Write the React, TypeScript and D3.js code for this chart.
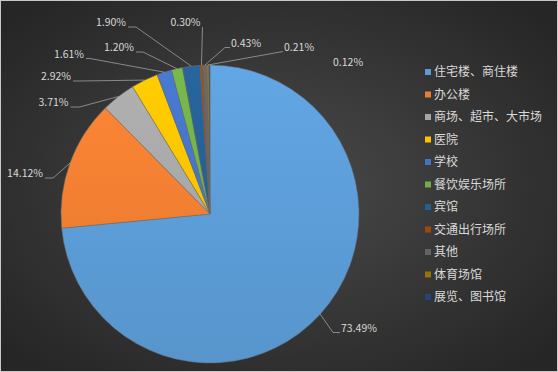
import React from "react";
import * as d3 from "d3";

const categories = [
  "住宅楼、商住楼",
  "办公楼",
  "商场、超市、大市场",
  "医院",
  "学校",
  "餐饮娱乐场所",
  "宾馆",
  "交通出行场所",
  "其他",
  "体育场馆",
  "展览、图书馆",
];
const values = [73.49, 14.12, 3.71, 2.92, 1.61, 1.2, 1.9, 0.3, 0.43, 0.21, 0.12];
const valueLabels = ["73.49%", "14.12%", "3.71%", "2.92%", "1.61%", "1.20%", "1.90%", "0.30%", "0.43%", "0.21%", "0.12%"];
const colors = ["#5b9bd5", "#ed7d31", "#a5a5a5", "#ffc000", "#4472c4", "#70ad47", "#255e91", "#9e480e", "#636363", "#997300", "#264478"];

// label layout (x, y centre, anchor, elbow length, leader shown)
const labelLayout = [
  { x: 341, y: 328, anchor: "start", elbow: 7, leader: true },
  { x: 43, y: 173.5, anchor: "end", elbow: 8, leader: true },
  { x: 68.5, y: 102.5, anchor: "end", elbow: 9, leader: true },
  { x: 71, y: 76.5, anchor: "end", elbow: 6, leader: true },
  { x: 84, y: 54, anchor: "end", elbow: 4, leader: true },
  { x: 134, y: 47.5, anchor: "end", elbow: 7, leader: true },
  { x: 126, y: 22.5, anchor: "end", elbow: 8, leader: true },
  { x: 200.5, y: 22.5, anchor: "end", elbow: 0, leader: true },
  { x: 231, y: 43, anchor: "start", elbow: 5, leader: true },
  { x: 284, y: 47, anchor: "start", elbow: 0, leader: true },
  { x: 333, y: 62, anchor: "start", elbow: 0, leader: false },
];

const W = 558;
const H = 372;
const cx = 210;
const cy = 214;
const R = 149;

export default function App() {
  const pie = d3
    .pie<number>()
    .sort(null)
    .value((d) => d)
    .startAngle(0)
    .endAngle(2 * Math.PI);
  const arcs = pie(values);
  const arc = d3.arc<d3.PieArcDatum<number>>().innerRadius(0).outerRadius(R);

  const legendY = d3.scalePoint<number>().domain(d3.range(categories.length)).range([72, 297]);

  const font = "'Noto Sans CJK SC', 'Microsoft YaHei', sans-serif";

  return (
    <div style={{ position: "absolute", left: 0, top: 0 }}>
      <svg width={W} height={H} style={{ display: "block" }}>
        <defs>
          <radialGradient id="bg" cx="50%" cy="50%" r="65%">
            <stop offset="0%" stopColor="#4a4a4a" />
            <stop offset="100%" stopColor="#262626" />
          </radialGradient>
          {colors.map((c, i) => (
            <linearGradient
              key={i}
              id={"g" + i}
              gradientUnits="userSpaceOnUse"
              x1={0}
              y1={-R}
              x2={0}
              y2={R}
            >
              <stop offset="0%" stopColor={d3.color(c)!.brighter(0.2).formatHex()} />
              <stop offset="100%" stopColor={d3.color(c)!.darker(0.12).formatHex()} />
            </linearGradient>
          ))}
        </defs>
        <rect x={0} y={0} width={W} height={H} fill="url(#bg)" />
        <rect x={0.5} y={0.5} width={W - 1} height={H - 1} fill="none" stroke="#c8c8c8" strokeWidth={1} />
        <g transform={`translate(${cx},${cy})`}>
          {arcs.map((a, i) => (
            <path key={i} d={arc(a)!} fill={`url(#g${i})`} stroke="#6b6b6b" strokeWidth={0.5} />
          ))}
        </g>
        {arcs.map((a, i) => {
          const L = labelLayout[i];
          const mid = (a.startAngle + a.endAngle) / 2;
          const ex = cx + R * Math.sin(mid);
          const ey = cy - R * Math.cos(mid);
          const ly = L.y + 4.5;
          let pts: [number, number][] = [];
          if (L.anchor === "end") {
            const sx = L.x + 2;
            pts = [[sx, ly], [sx + L.elbow, ly], [ex, ey]];
          } else {
            const sx = L.x - 1;
            pts = [[sx, ly], [sx - L.elbow, ly], [ex, ey]];
          }
          return (
            <g key={i}>
              {L.leader && (
                <polyline
                  points={pts.map((p) => p.join(",")).join(" ")}
                  fill="none"
                  stroke="#a6a6a6"
                  strokeWidth={0.75}
                />
              )}
              <text
                x={L.x}
                y={L.y}
                dy="0.35em"
                textAnchor={L.anchor as any}
                fill="#d9d9d9"
                fontSize={10.5}
                fontFamily={font}
              >
                {valueLabels[i]}
              </text>
            </g>
          );
        })}
        {categories.map((c, i) => (
          <g key={c} transform={`translate(425,${legendY(i)})`}>
            <rect x={0} y={-3} width={6} height={6} fill={colors[i]} />
            <text x={9} y={0} dy="0.35em" fill="#d9d9d9" fontSize={12} fontFamily={font}>
              {c}
            </text>
          </g>
        ))}
      </svg>
    </div>
  );
}
